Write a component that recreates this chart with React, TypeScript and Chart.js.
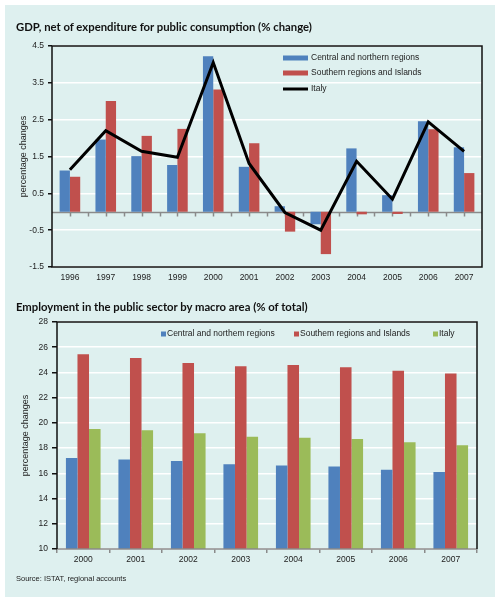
import React, { useEffect, useRef } from 'react';
import { Chart, registerables } from 'chart.js';

Chart.register(...registerables);

// ---- Data: GDP, net of expenditure for public consumption (% change)
const gdpYears = ['1996', '1997', '1998', '1999', '2000', '2001', '2002', '2003', '2004', '2005', '2006', '2007'];
const gdpCentral = [1.12, 1.96, 1.51, 1.27, 4.22, 1.22, 0.15, -0.34, 1.72, 0.45, 2.46, 1.75];
const gdpSouthern = [0.95, 3.01, 2.06, 2.25, 3.32, 1.86, -0.54, -1.15, -0.07, -0.06, 2.24, 1.05];
const gdpItaly = [1.14, 2.2, 1.64, 1.48, 4.05, 1.31, -0.02, -0.5, 1.37, 0.34, 2.44, 1.64];
const gdpTicks = [-1.5, -0.5, 0.5, 1.5, 2.5, 3.5, 4.5];

// ---- Data: Employment in the public sector by macro area (% of total)
const empYears = ['2000', '2001', '2002', '2003', '2004', '2005', '2006', '2007'];
const empCentral = [17.21, 17.1, 16.97, 16.73, 16.63, 16.55, 16.28, 16.1];
const empSouthern = [25.45, 25.14, 24.74, 24.5, 24.6, 24.42, 24.13, 23.92];
const empItaly = [19.52, 19.41, 19.17, 18.9, 18.83, 18.72, 18.46, 18.22];

const BLUE = '#4f81bd';
const RED = '#c0504d';
const GREEN = '#9bbb59';
const PANEL = '#def0ef';
const TEXT = '#222222';
const FONT = "'Liberation Sans', Arial, sans-serif";

const topPlugin = {
  id: 'topDecor',
  beforeDatasetsDraw(chart: any) {
    const { ctx, chartArea, scales } = chart;
    const x = scales.x;
    const y0 = Math.round(scales.y.getPixelForValue(0)) + 0.5;
    ctx.save();
    ctx.strokeStyle = '#8a8a8a';
    ctx.lineWidth = 1.5;
    ctx.beginPath();
    ctx.moveTo(chartArea.left, y0);
    ctx.lineTo(chartArea.right, y0);
    const n = chart.data.labels.length;
    const half = (chartArea.right - chartArea.left) / n / 2;
    for (let i = 0; i < n; i++) {
      const c = x.getPixelForValue(i);
      for (const px of [c - half, c]) {
        if (px <= chartArea.left + 1) continue;
        ctx.moveTo(Math.round(px) + 0.5, y0);
        ctx.lineTo(Math.round(px) + 0.5, y0 + 4);
      }
    }
    ctx.stroke();
    ctx.restore();
  },
  afterDraw(chart: any) {
    const { ctx, chartArea } = chart;
    const { left, right, top, bottom } = chartArea;
    ctx.save();
    ctx.strokeStyle = '#111';
    ctx.lineWidth = 1.5;
    ctx.strokeRect(left, top, right - left, bottom - top);
    // legend
    const ds = chart.data.datasets;
    const order = [1, 2, 0];
    const x0 = right - 199;
    const rows = [12, 27, 43];
    ctx.font = `8.5px ${FONT}`;
    ctx.textBaseline = 'middle';
    ctx.textAlign = 'left';
    order.forEach((idx, k) => {
      const d = ds[idx];
      const yy = top + rows[k];
      if (d.type === 'line') {
        ctx.strokeStyle = '#000';
        ctx.lineWidth = 3;
        ctx.beginPath();
        ctx.moveTo(x0, yy);
        ctx.lineTo(x0 + 25, yy);
        ctx.stroke();
      } else {
        ctx.fillStyle = d.backgroundColor;
        ctx.fillRect(x0, yy - 2.5, 25, 5);
      }
      ctx.fillStyle = TEXT;
      ctx.fillText(d.label, x0 + 28, yy);
    });
    ctx.restore();
  },
};

const bottomPlugin = {
  id: 'bottomDecor',
  afterDraw(chart: any) {
    const { ctx, chartArea } = chart;
    const { left, right, top, bottom } = chartArea;
    ctx.save();
    ctx.lineWidth = 1.5;
    ctx.strokeStyle = '#8a8a8a';
    ctx.beginPath();
    ctx.moveTo(left, bottom);
    ctx.lineTo(right, bottom);
    ctx.stroke();
    ctx.strokeStyle = '#111';
    ctx.beginPath();
    ctx.moveTo(left, bottom);
    ctx.lineTo(left, top);
    ctx.lineTo(right, top);
    ctx.lineTo(right, bottom);
    ctx.stroke();
    // legend
    const ds = chart.data.datasets;
    const offs = [104, 237, 376];
    ctx.font = `8.5px ${FONT}`;
    ctx.textBaseline = 'middle';
    ctx.textAlign = 'left';
    ds.forEach((d: any, i: number) => {
      const xx = left + offs[i];
      const yy = top + 12;
      ctx.fillStyle = d.backgroundColor;
      ctx.fillRect(xx, yy - 2.5, 5, 5);
      ctx.fillStyle = TEXT;
      ctx.fillText(d.label, xx + 6, yy);
    });
    ctx.restore();
  },
};

const tickFont = { family: FONT, size: 8.5 };

export default function App() {
  const topRef = useRef<HTMLCanvasElement>(null);
  const botRef = useRef<HTMLCanvasElement>(null);

  useEffect(() => {
    const c1 = new Chart(topRef.current as HTMLCanvasElement, {
      type: 'bar',
      data: {
        labels: gdpYears,
        datasets: [
          {
            type: 'line',
            label: 'Italy',
            data: gdpItaly,
            borderColor: '#000',
            borderWidth: 3,
            pointRadius: 0,
            tension: 0,
            fill: false,
            order: 0,
          } as any,
          {
            label: 'Central and northern regions',
            data: gdpCentral,
            backgroundColor: BLUE,
            categoryPercentage: 0.575,
            barPercentage: 1,
            order: 1,
          },
          {
            label: 'Southern regions and Islands',
            data: gdpSouthern,
            backgroundColor: RED,
            categoryPercentage: 0.575,
            barPercentage: 1,
            order: 1,
          },
        ],
      },
      options: {
        responsive: false,
        animation: false,
        layout: { padding: { left: 14, right: 18, top: 46, bottom: 7 } },
        plugins: { legend: { display: false }, tooltip: { enabled: false } },
        scales: {
          x: {
            grid: { display: false, drawTicks: false },
            border: { display: false },
            ticks: { color: TEXT, font: tickFont, padding: 6, maxRotation: 0, autoSkip: false },
            afterFit: (s: any) => {
              s.height = 16;
            },
          },
          y: {
            min: -1.5,
            max: 4.5,
            afterBuildTicks: (s: any) => {
              s.ticks = gdpTicks.map((v) => ({ value: v }));
            },
            grid: { color: '#ffffff', lineWidth: 1.5, tickColor: '#111', tickLength: 4 },
            border: { display: false },
            ticks: { color: TEXT, font: tickFont, padding: 4, callback: (v: any) => String(v) },
            title: {
              display: true,
              text: 'percentage changes',
              color: TEXT,
              font: { family: FONT, size: 9 },
              padding: { top: 4, bottom: 0 },
            },
            afterFit: (s: any) => {
              s.width = 38;
            },
          },
        },
      },
      plugins: [topPlugin],
    });

    const c2 = new Chart(botRef.current as HTMLCanvasElement, {
      type: 'bar',
      data: {
        labels: empYears,
        datasets: [
          { label: 'Central and northem regions', data: empCentral, backgroundColor: BLUE, categoryPercentage: 0.66, barPercentage: 1 },
          { label: 'Southem regions and Islands', data: empSouthern, backgroundColor: RED, categoryPercentage: 0.66, barPercentage: 1 },
          { label: 'Italy', data: empItaly, backgroundColor: GREEN, categoryPercentage: 0.66, barPercentage: 1 },
        ],
      },
      options: {
        responsive: false,
        animation: false,
        layout: { padding: { left: 16, right: 23, top: 32, bottom: 36 } },
        plugins: { legend: { display: false }, tooltip: { enabled: false } },
        scales: {
          x: {
            grid: { display: true, drawOnChartArea: false, drawTicks: true, tickLength: 4, tickColor: '#8a8a8a', lineWidth: 1.5, offset: true },
            border: { display: false },
            ticks: { color: TEXT, font: tickFont, padding: 2, maxRotation: 0, autoSkip: false },
            afterFit: (s: any) => {
              s.height = 18;
            },
          },
          y: {
            min: 10,
            max: 28,
            ticks: { stepSize: 2, color: TEXT, font: tickFont, padding: 4 },
            grid: { color: '#ffffff', lineWidth: 1.5, tickColor: '#111', tickLength: 5 },
            border: { display: false },
            title: {
              display: true,
              text: 'percentage changes',
              color: TEXT,
              font: { family: FONT, size: 9 },
              padding: { top: 4, bottom: 0 },
            },
            afterFit: (s: any) => {
              s.width = 41;
            },
          },
        },
      },
      plugins: [bottomPlugin],
    });

    return () => {
      c1.destroy();
      c2.destroy();
    };
  }, []);

  const titleStyle: React.CSSProperties = {
    position: 'absolute',
    left: 16,
    fontFamily: "Lato, 'Open Sans', sans-serif",
    fontWeight: 700,
    fontSize: 11.3,
    lineHeight: '13px',
    color: '#111',
    whiteSpace: 'nowrap',
  };

  return (
    <div style={{ position: 'absolute', left: 0, top: 0, width: 500, height: 603, background: '#ffffff', overflow: 'hidden' }}>
      <div style={{ position: 'absolute', left: 5, top: 5, width: 490, height: 592, background: PANEL }} />
      <canvas ref={topRef} width={500} height={290} style={{ position: 'absolute', left: 0, top: 0, width: 500, height: 290 }} />
      <canvas ref={botRef} width={500} height={313} style={{ position: 'absolute', left: 0, top: 290, width: 500, height: 313 }} />
      <div style={{ ...titleStyle, top: 20 }}>GDP, net of expenditure for public consumption (% change)</div>
      <div style={{ ...titleStyle, top: 300 }}>Employment in the public sector by macro area (% of total)</div>
      <div
        style={{
          position: 'absolute',
          left: 16,
          top: 574,
          fontFamily: FONT,
          fontSize: 7.5,
          lineHeight: '10px',
          color: TEXT,
          whiteSpace: 'nowrap',
        }}
      >
        Source: ISTAT, regional accounts
      </div>
    </div>
  );
}
